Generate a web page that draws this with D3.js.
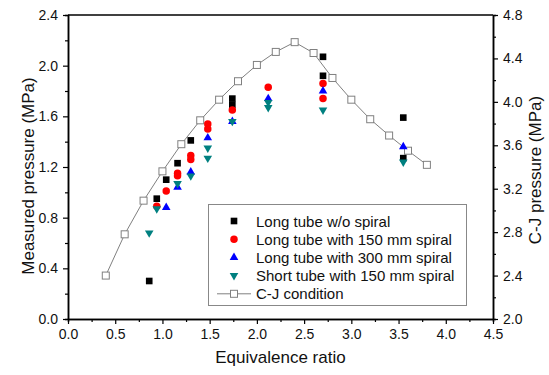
<!DOCTYPE html>
<html><head><meta charset="utf-8">
<script src="https://cdn.jsdelivr.net/npm/d3@7"></script>
<style>body{margin:0;background:#fff}text{font-family:"Liberation Sans",Arial,sans-serif}</style>
</head><body><svg id="c" width="549" height="375"></svg>
<script>
const seriesNames = ["Long tube w/o spiral","Long tube with 150 mm spiral","Long tube with 300 mm spiral","Short tube with 150 mm spiral","C-J condition"];
const s1 = [[0.86,0.30],[0.94,0.95],[1.04,1.10],[1.16,1.23],[1.30,1.41],[1.74,1.74],[1.74,1.69],[2.70,2.07],[2.70,1.92],[3.55,1.59],[3.55,1.27]];
const s2 = [[0.94,0.89],[1.04,1.01],[1.16,1.15],[1.16,1.13],[1.30,1.29],[1.30,1.26],[1.48,1.54],[1.48,1.50],[1.74,1.65],[2.12,1.83],[2.70,1.86],[2.70,1.74]];
const s3 = [[1.04,0.88],[1.16,1.04],[1.30,1.16],[1.48,1.43],[1.74,1.56],[2.12,1.74],[2.70,1.80],[3.55,1.36]];
const s4 = [[0.86,0.68],[0.94,0.87],[1.16,1.07],[1.30,1.13],[1.48,1.35],[1.48,1.27],[1.74,1.56],[2.12,1.71],[2.12,1.67],[2.70,1.65],[3.55,1.24]];
const cjPhi = [0.4,0.6,0.8,1.0,1.2,1.4,1.6,1.8,2.0,2.2,2.4,2.6,2.8,3.0,3.2,3.4,3.6,3.8];
const cjP   = [2.40,2.78,3.09,3.36,3.61,3.83,4.02,4.19,4.34,4.46,4.55,4.45,4.22,4.02,3.84,3.69,3.55,3.42];
const xTicks = [0,0.5,1,1.5,2,2.5,3,3.5,4,4.5];
const yTicks = [0,0.4,0.8,1.2,1.6,2.0,2.4];
const y2Ticks = [2.0,2.4,2.8,3.2,3.6,4.0,4.4,4.8];

const svg = d3.select("#c");
const L=68,R=493,T=15,B=319;
const x = d3.scaleLinear().domain([0,4.5]).range([L,R]);
const y = d3.scaleLinear().domain([0,2.4]).range([B,T]);
const y2 = d3.scaleLinear().domain([2.0,4.8]).range([B,T]);

function styleAxis(g){
  g.selectAll("path").attr("stroke","#000").attr("stroke-width",1.5);
  g.selectAll("line").attr("stroke","#000").attr("stroke-width",1.2);
  g.selectAll("text").attr("font-size",14).attr("fill","#111").attr("font-family","Liberation Sans, Arial, sans-serif");
}
const xMinor = d3.range(0.25,4.5,0.5);
const yMinor = d3.range(0.2,2.4,0.4);
const y2Minor = d3.range(2.2,4.8,0.4);
svg.append("g").attr("transform",`translate(0,${B})`).call(d3.axisBottom(x).tickValues(xMinor).tickSize(3).tickFormat("")).call(styleAxis);
svg.append("g").attr("transform",`translate(${L},0)`).call(d3.axisLeft(y).tickValues(yMinor).tickSize(3).tickFormat("")).call(styleAxis);
svg.append("g").attr("transform",`translate(${R},0)`).call(d3.axisRight(y2).tickValues(y2Minor).tickSize(3).tickFormat("")).call(styleAxis);

svg.append("g").attr("transform",`translate(0,${B})`).call(d3.axisBottom(x).tickValues(xTicks).tickSize(5).tickSizeOuter(0).tickPadding(5).tickFormat(d3.format(".1f"))).call(styleAxis);
svg.append("g").attr("transform",`translate(${L},0)`).call(d3.axisLeft(y).tickValues(yTicks).tickSize(5).tickSizeOuter(0).tickPadding(5).tickFormat(d3.format(".1f"))).call(styleAxis);
svg.append("g").attr("transform",`translate(${R},0)`).call(d3.axisRight(y2).tickValues(y2Ticks).tickSize(5).tickSizeOuter(0).tickPadding(5).tickFormat(d3.format(".1f"))).call(styleAxis);
svg.append("line").attr("x1",L).attr("x2",R).attr("y1",T).attr("y2",T).attr("stroke","#000").attr("stroke-width",1.5);

svg.append("text").attr("x",(L+R)/2).attr("y",363).attr("text-anchor","middle").attr("font-size",17).attr("fill","#111").text("Equivalence ratio");
svg.append("text").attr("transform",`translate(34,176) rotate(-90)`).attr("text-anchor","middle").attr("font-size",17).attr("fill","#111").text("Measured pressure (MPa)");
svg.append("text").attr("transform",`translate(541,170) rotate(-90)`).attr("text-anchor","middle").attr("font-size",17).attr("fill","#111").text("C-J pressure (MPa)");

const cj = cjPhi.map((p,i)=>[p,cjP[i]]);
svg.append("path").datum(cj).attr("fill","none").attr("stroke","#808080").attr("stroke-width",1)
  .attr("d",d3.line().x(d=>x(d[0])).y(d=>y2(d[1])));
svg.append("g").selectAll("rect").data(cj).join("rect")
  .attr("x",d=>x(d[0])-3.5).attr("y",d=>y2(d[1])-3.5).attr("width",7).attr("height",7)
  .attr("fill","#fff").attr("stroke","#808080").attr("stroke-width",1);

const defs = [
  {data:s1,color:"#000000",sym:d3.symbolSquare,size:44,rot:0},
  {data:s2,color:"#ff0000",sym:d3.symbolCircle,size:44,rot:0},
  {data:s3,color:"#0000ff",sym:d3.symbolTriangle,size:32,rot:0},
  {data:s4,color:"#008080",sym:d3.symbolTriangle,size:32,rot:180},
];
defs.forEach(s=>{
  svg.append("g").selectAll("path").data(s.data).join("path")
    .attr("d",d3.symbol(s.sym,s.size))
    .attr("transform",d=>`translate(${x(d[0])},${y(d[1])}) rotate(${s.rot})`)
    .attr("fill",s.color);
});

const lg = svg.append("g");
lg.append("rect").attr("x",208.5).attr("y",204.5).attr("width",258).attr("height",101).attr("fill","#fff").attr("stroke","#888").attr("stroke-width",1);
const rowY = d=>221+d*18.2;
defs.forEach((s,i)=>{
  lg.append("path").attr("d",d3.symbol(s.sym,s.size)).attr("transform",`translate(234,${rowY(i)}) rotate(${s.rot})`).attr("fill",s.color);
});
lg.append("line").attr("x1",217).attr("x2",251).attr("y1",rowY(4)).attr("y2",rowY(4)).attr("stroke","#808080");
lg.append("rect").attr("x",230.5).attr("y",rowY(4)-3.5).attr("width",7).attr("height",7).attr("fill","#fff").attr("stroke","#808080");
seriesNames.forEach((n,i)=>{
  lg.append("text").attr("x",256).attr("y",rowY(i)+5.5).attr("font-size",15).attr("fill","#111").text(n);
});
</script></body></html>
